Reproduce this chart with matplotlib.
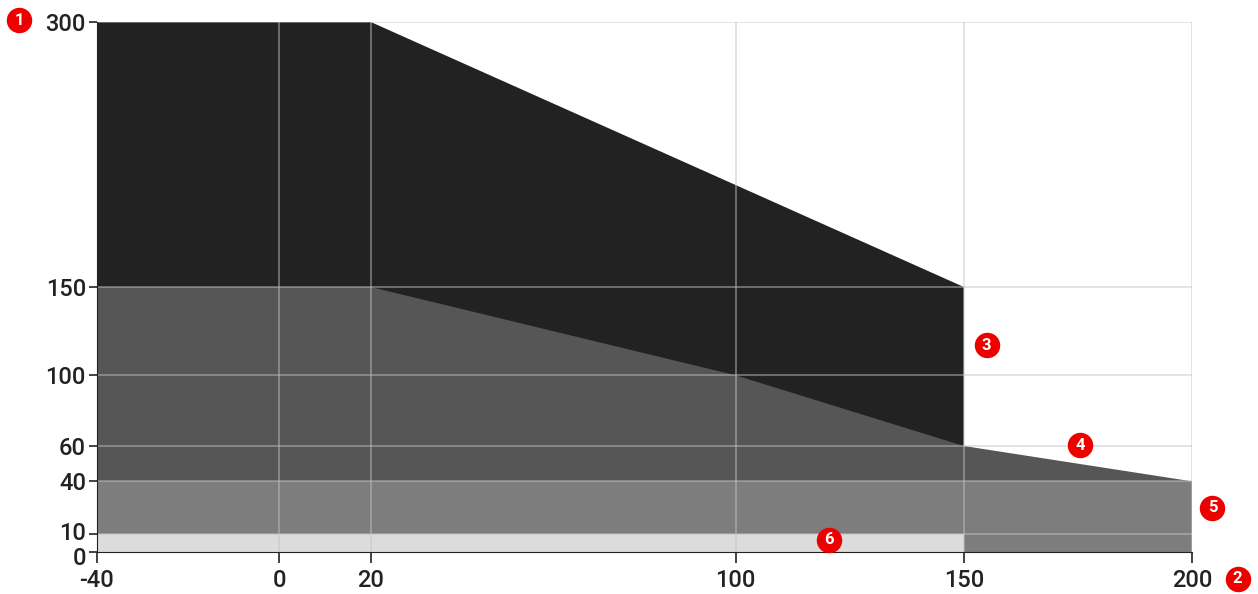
import matplotlib
matplotlib.use("Agg")
import matplotlib.pyplot as plt
import matplotlib.transforms as mtransforms

plt.rcParams['font.family'] = ['Roboto', 'DejaVu Sans']
plt.rcParams['axes.unicode_minus'] = False

# layer outlines (x, y)
black_x = [-40, 20, 150, 150, -40]
black_y = [300, 300, 150, 0, 0]
dark_x = [-40, 20, 100, 150, 200, 200, -40]
dark_y = [150, 150, 100, 60, 40, 0, 0]
mid_x = [-40, 200, 200, -40]
mid_y = [40, 40, 0, 0]
light_x = [-40, 150, 150, -40]
light_y = [10, 10, 0, 0]

xticks = [-40, 0, 20, 100, 150, 200]
yticks = [0, 10, 40, 60, 100, 150, 300]

# numbered markers: (label, x, y)
markers = [('1', -57, 301), ('2', 210, -15), ('3', 155, 117),
           ('4', 175.5, 60.5), ('5', 204.5, 25), ('6', 120.5, 7)]

fig = plt.figure(figsize=(12.58, 5.94), dpi=100)
ax = fig.add_axes([0.0771, 0.0707, 0.8704, 0.8923])

ax.fill(black_x, black_y, color='#222222', lw=0, zorder=1)
ax.fill(dark_x, dark_y, color='#565656', lw=0, zorder=2)
ax.fill(mid_x, mid_y, color='#7d7d7d', lw=0, zorder=3)
ax.fill(light_x, light_y, color='#dcdcdc', lw=0, zorder=4)

for x in xticks[1:]:
    ax.axvline(x, color='#c4c4c4', alpha=0.5, lw=1.3, zorder=5)
for y in yticks[1:]:
    ax.axhline(y, color='#c4c4c4', alpha=0.5, lw=1.3, zorder=5)

ax.set_xlim(-40, 200)
ax.set_ylim(0, 300)
ax.set_xticks(xticks)
ax.set_yticks(yticks)
ax.tick_params(axis='both', labelsize=17, colors='#222222', width=1.2)
ax.tick_params(axis='x', length=8, pad=4)
ax.tick_params(axis='y', length=6, pad=2)
for t in ax.get_xticklabels() + ax.get_yticklabels():
    t.set_fontweight('medium')
for s in ['top', 'right']:
    ax.spines[s].set_visible(False)
ax.spines['left'].set_color('#222222')
ax.spines['bottom'].set_color('#222222')
ax.spines['left'].set_zorder(6)
ax.spines['bottom'].set_zorder(6)

# the 0 and 10 labels sit very close, push them apart a little
ylabels = ax.get_yticklabels()
ylabels[0].set_transform(ylabels[0].get_transform() +
                         mtransforms.ScaledTranslation(0, -4 / 100, fig.dpi_scale_trans))
ylabels[1].set_transform(ylabels[1].get_transform() +
                         mtransforms.ScaledTranslation(0, 3 / 100, fig.dpi_scale_trans))

for lab, x, y in markers:
    ax.scatter([x], [y], s=300, color='#ee0000', zorder=10, clip_on=False)
    ax.text(x, y, lab, color='white', fontsize=12, fontweight='bold',
            ha='center', va='center', zorder=11, clip_on=False)

plt.savefig("out.png", dpi=100)
